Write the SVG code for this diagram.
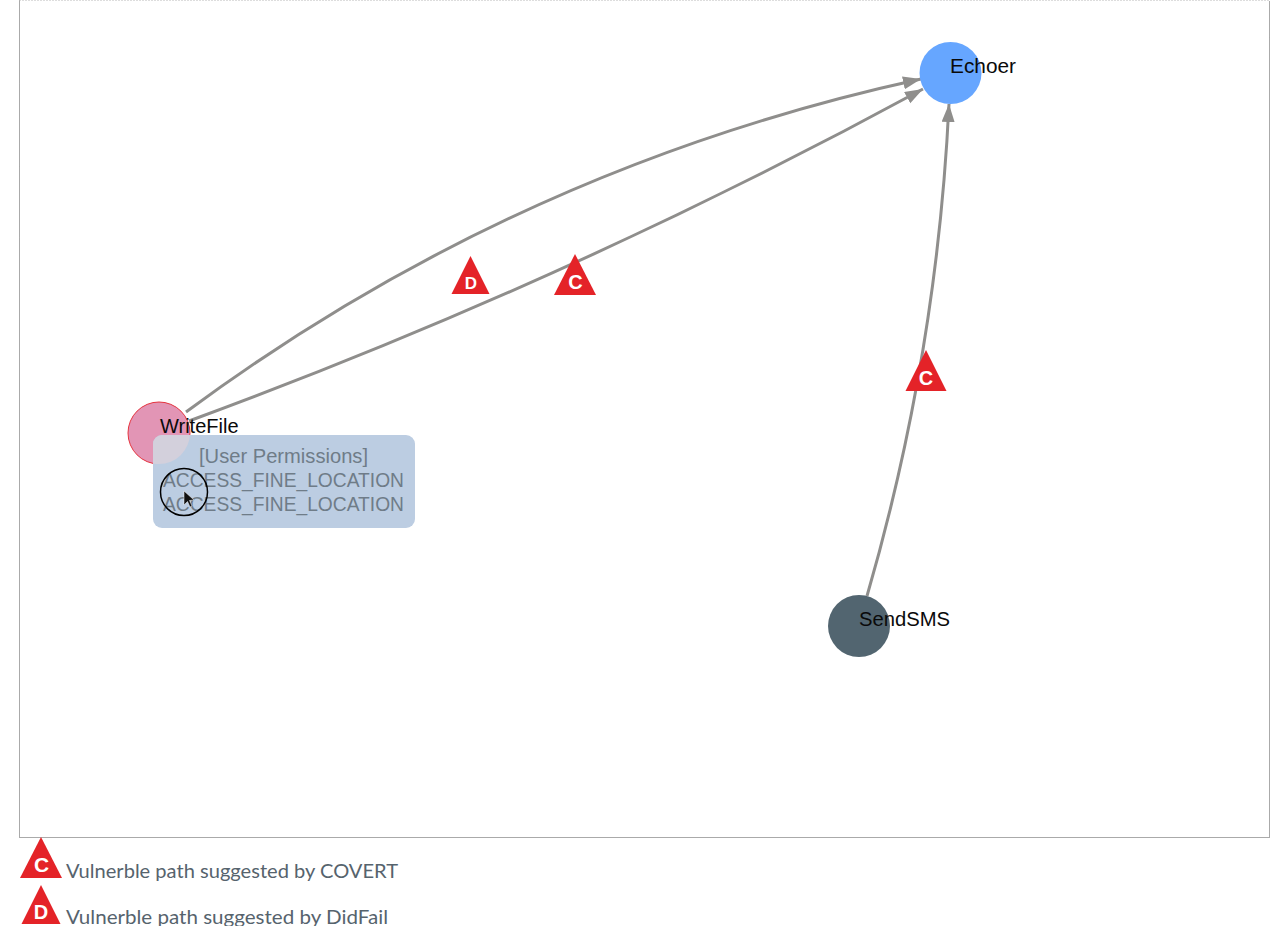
<svg xmlns="http://www.w3.org/2000/svg" width="1280" height="926" viewBox="0 0 1280 926">
<style>
.frame{fill:none;stroke:#555;stroke-width:1;stroke-dasharray:1 1}
.frametop{fill:none;stroke:#bbb;stroke-width:1;stroke-dasharray:1 2}
.edge{fill:none;stroke:#8f8e8c;stroke-width:3;marker-end:url(#arrow)}
.label{font-family:"Liberation Sans",Arial,sans-serif;font-size:20px;fill:#0a0a0a}
.tip{font-family:"Liberation Sans",Arial,sans-serif;font-size:20px;fill:#6f7c88}
.badge{fill:#e42328}
.bl{font-family:"Liberation Sans",Arial,sans-serif;font-weight:bold;fill:#fff;text-anchor:middle}
.legend{font-family:"Lato","Open Sans",sans-serif;font-size:20px;fill:#56636d}
</style>
<defs>
<marker id="arrow" markerUnits="userSpaceOnUse" markerWidth="20" markerHeight="14" refX="18" refY="6.5" orient="auto">
<path d="M0 0L18 6.5L0 13Z" fill="#8f8e8c"/>
</marker>
<clipPath id="tipclip"><rect x="153" y="435" width="262" height="93" rx="9"/></clipPath>
</defs>
<path class="frame" d="M19.500 0.500V837.500H1269.500V0.500"/>
<path class="frametop" d="M19.500 0.500H1269.500"/>
<g id="connectors">
<path class="edge" d="M186 412Q517 167 921 79"/>
<path class="edge" d="M189 421Q568 282 923 89"/>
<path class="edge" d="M867 596Q937 355 949 104"/>
</g>
<g id="node-echoer">
<circle cx="950.500" cy="73" r="31" fill="#66a6ff"/>
<text class="label" x="950" y="73" textLength="66" lengthAdjust="spacingAndGlyphs">Echoer</text>
</g>
<g id="node-sendsms">
<circle cx="859" cy="626" r="31" fill="#526570"/>
<text class="label" x="859" y="626" textLength="91" lengthAdjust="spacingAndGlyphs">SendSMS</text>
</g>
<g id="node-writefile">
<circle cx="159" cy="433" r="31" fill="#e295b5" stroke="#e5343f" stroke-width="1"/>
<text class="label" x="160" y="433">WriteFile</text>
</g>
<g id="badge-d1"><polygon class="badge" points="470.500,256 489.500,294 451.500,294"/><text class="bl" x="471" y="289" font-size="17">D</text></g>
<g id="badge-c1"><polygon class="badge" points="575,254 596,295 554,295"/><text class="bl" x="575.500" y="289" font-size="20">C</text></g>
<g id="badge-c2"><polygon class="badge" points="926,350 946.500,391 905.500,391"/><text class="bl" x="926" y="385" font-size="20">C</text></g>
<g id="tooltip">
<rect x="153" y="435" width="262" height="93" rx="9" fill="#bccde2"/>
<circle cx="159" cy="433" r="31" fill="#d3d0dc" clip-path="url(#tipclip)"/>
<text class="tip" x="283.500" y="463" text-anchor="middle" textLength="169" lengthAdjust="spacingAndGlyphs">[User Permissions]</text>
<text class="tip" x="163" y="487" textLength="241" lengthAdjust="spacingAndGlyphs">ACCESS_FINE_LOCATION</text>
<text class="tip" x="163" y="511" textLength="241" lengthAdjust="spacingAndGlyphs">ACCESS_FINE_LOCATION</text>
</g>
<g id="cursor">
<circle cx="184" cy="492" r="23.500" fill="none" stroke="#000" stroke-width="1.500"/>
<path d="M184 491L184 505L187.500 501.500L190 507L192 506L189.500 500.500L194 500Z" fill="#111" stroke="#fff" stroke-width="0.500"/>
</g>
<g id="legend">
<polygon class="badge" points="41,837 62,878 20,878"/><text class="bl" x="41.500" y="872" font-size="21">C</text>
<text class="legend" x="66" y="878" textLength="332" lengthAdjust="spacingAndGlyphs">Vulnerble path suggested by COVERT</text>
<polygon class="badge" points="41,885 60.500,924 21.500,924"/><text class="bl" x="41" y="919" font-size="20">D</text>
<text class="legend" x="66" y="924" textLength="322" lengthAdjust="spacingAndGlyphs">Vulnerble path suggested by DidFail</text>
</g>
</svg>
